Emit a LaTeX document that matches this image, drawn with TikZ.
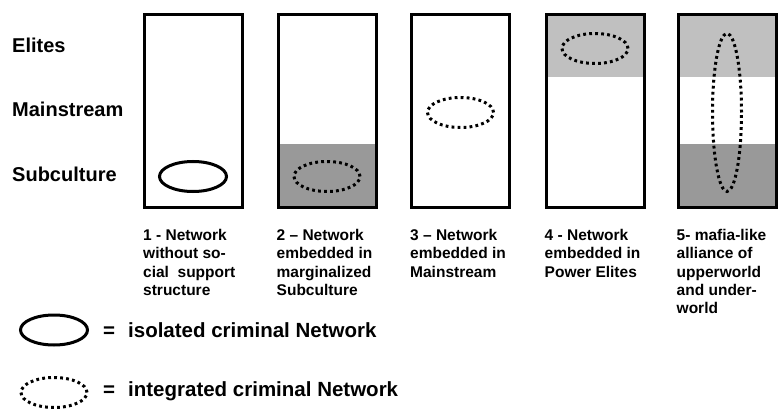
\documentclass[tikz,border=0pt]{standalone}
\usepackage{fontspec}
\setmainfont{Liberation Sans}
\usetikzlibrary{shapes.geometric,backgrounds}
\definecolor{elitegray}{HTML}{C0C0C0}
\definecolor{subgray}{HTML}{999999}

\tikzset{
  layerbox/.style={draw,line width=3pt,minimum width=98pt,minimum height=193pt,inner sep=0pt},
  isolated/.style={draw,ellipse,line width=3pt,minimum width=67pt,minimum height=30pt,inner sep=0pt},
  integrated/.style={draw,ellipse,line width=3pt,dash pattern=on 2.8pt off 3.2pt,minimum width=66pt,minimum height=30pt,inner sep=0pt},
  level/.style={font=\fontsize{20}{22}\selectfont\bfseries,anchor=base west,inner sep=0pt},
  caption/.style={font=\fontsize{15.5}{18.3}\selectfont\bfseries,anchor=north west,align=left,inner sep=0pt},
  legend/.style={font=\fontsize{20.5}{22}\selectfont\bfseries,anchor=base west,inner sep=0pt}
}

\begin{document}
\begin{tikzpicture}[x=1pt,y=-1pt]
  \useasboundingbox (0,0) rectangle (779,409);
  % social layers
  \node[level] (elites) at (12,53) {Elites};
  \node[level] (mainstream) at (12,117) {Mainstream};
  \node[level] (subculture) at (12,181) {Subculture};
  % the five columns
  \foreach \i/\x in {1/193.5,2/327,3/460.5,4/595,5/727}
    \node[layerbox] (box\i) at (\x,111) {};
  \begin{scope}[on background layer]
    \fill[subgray] (box2.south west) rectangle (box2.east |- 0,144);
    \fill[elitegray] (box4.north west) rectangle (box4.east |- 0,77);
    \fill[elitegray] (box5.north west) rectangle (box5.east |- 0,77);
    \fill[subgray] (box5.south west) rectangle (box5.east |- 0,144);
  \end{scope}
  % networks
  \node[isolated] (net1) at (193,176.5) {};
  \node[integrated] (net2) at (327,176.5) {};
  \node[integrated] (net3) at (460.5,112.5) {};
  \node[integrated] (net4) at (595,48.5) {};
  \node[integrated,minimum width=29pt,minimum height=158pt] (net5) at (727,112.5) {};
  % captions
  \node[caption] (cap1) at (box1.south west |- 0,229) {1 - Network\\without so-\\cial\ \ support\\structure};
  \node[caption] (cap2) at (box2.south west |- 0,229) {2 -- Network\\embedded in\\marginalized\\Subculture};
  \node[caption] (cap3) at (box3.south west |- 0,229) {3 -- Network\\embedded in\\Mainstream};
  \node[caption] (cap4) at (box4.south west |- 0,229) {4 - Network\\embedded in\\Power Elites};
  \node[caption] (cap5) at (box5.south west |- 0,229) {5- mafia-like\\alliance of\\upperworld\\and under-\\world};
  % legend
  \node[isolated] (isokey) at (54,330) {};
  \node[legend] (isotext) at (103,337) {=\hspace{13pt}isolated criminal Network};
  \node[integrated] (intkey) at (54,392.5) {};
  \node[legend] (inttext) at (103,396) {=\hspace{13pt}integrated criminal Network};
\end{tikzpicture}
\end{document}
